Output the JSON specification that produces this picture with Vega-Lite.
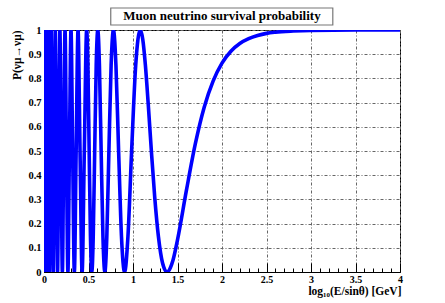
{
  "$schema": "https://vega.github.io/schema/vega-lite/v6.json",
  "width": 356,
  "height": 242,
  "autosize": {"type": "none"},
  "padding": {"left": 44, "top": 30, "right": 45, "bottom": 31},
  "background": "white",
  "config": {
    "view": {"stroke": "black", "strokeWidth": 1},
    "font": "Liberation Serif",
    "axis": {
      "labelFont": "Liberation Serif",
      "labelFontWeight": "bold",
      "labelFontSize": 10.5,
      "labelColor": "black",
      "titleFont": "Liberation Serif",
      "titleFontWeight": "bold",
      "titleColor": "black",
      "domainColor": "black",
      "tickColor": "black",
      "gridColor": "#666666",
      "gridDash": [3, 2, 1, 2],
      "gridWidth": 1,
      "gridOpacity": 1
    }
  },
  "resolve": {"axis": {"x": "independent", "y": "independent"}},
  "layer": [
    {
      "data": {
        "values": [
          {"x": 0.0, "p": 0.959},
          {"x": 0.0023, "p": 1},
          {"x": 0.0114, "p": 0.5},
          {"x": 0.0207, "p": 0},
          {"x": 0.0303, "p": 0.5},
          {"x": 0.0401, "p": 1},
          {"x": 0.05, "p": 0.5},
          {"x": 0.0602, "p": 0},
          {"x": 0.0707, "p": 0.5},
          {"x": 0.0814, "p": 1},
          {"x": 0.0924, "p": 0.5},
          {"x": 0.1037, "p": 0},
          {"x": 0.1153, "p": 0.5},
          {"x": 0.1272, "p": 1},
          {"x": 0.1394, "p": 0.5},
          {"x": 0.152, "p": 0},
          {"x": 0.165, "p": 0.5},
          {"x": 0.1784, "p": 1},
          {"x": 0.1921, "p": 0.5},
          {"x": 0.2064, "p": 0},
          {"x": 0.2211, "p": 0.5},
          {"x": 0.2363, "p": 1},
          {"x": 0.2521, "p": 0.5},
          {"x": 0.2685, "p": 0},
          {"x": 0.2856, "p": 0.5},
          {"x": 0.3033, "p": 1},
          {"x": 0.3218, "p": 0.5},
          {"x": 0.3411, "p": 0},
          {"x": 0.3613, "p": 0.5},
          {"x": 0.3825, "p": 1},
          {"x": 0.4048, "p": 0.5},
          {"x": 0.4282, "p": 0},
          {"x": 0.4531, "p": 0.5},
          {"x": 0.4794, "p": 1},
          {"x": 0.4932, "p": 0.8536},
          {"x": 0.5074, "p": 0.5},
          {"x": 0.5221, "p": 0.1464},
          {"x": 0.5374, "p": 0},
          {"x": 0.5532, "p": 0.1464},
          {"x": 0.5696, "p": 0.5},
          {"x": 0.5866, "p": 0.8536},
          {"x": 0.6043, "p": 1},
          {"x": 0.6228, "p": 0.8536},
          {"x": 0.6421, "p": 0.5},
          {"x": 0.6623, "p": 0.1464},
          {"x": 0.6835, "p": 0},
          {"x": 0.7058, "p": 0.1464},
          {"x": 0.7293, "p": 0.5},
          {"x": 0.7541, "p": 0.8536},
          {"x": 0.7804, "p": 1},
          {"x": 0.8084, "p": 0.8536},
          {"x": 0.8384, "p": 0.5},
          {"x": 0.8706, "p": 0.1464},
          {"x": 0.9054, "p": 0},
          {"x": 0.9431, "p": 0.1464},
          {"x": 0.9845, "p": 0.5},
          {"x": 1.0303, "p": 0.8536},
          {"x": 1.0814, "p": 1},
          {"x": 1.1095, "p": 0.9619},
          {"x": 1.1394, "p": 0.8536},
          {"x": 1.1716, "p": 0.6913},
          {"x": 1.2064, "p": 0.5},
          {"x": 1.2442, "p": 0.3087},
          {"x": 1.2856, "p": 0.1464},
          {"x": 1.3313, "p": 0.0381},
          {"x": 1.3825, "p": 0},
          {"x": 1.42, "p": 0.018},
          {"x": 1.45, "p": 0.05},
          {"x": 1.5, "p": 0.133},
          {"x": 1.6, "p": 0.337},
          {"x": 1.7, "p": 0.529},
          {"x": 1.8, "p": 0.681},
          {"x": 1.9, "p": 0.789},
          {"x": 2.0, "p": 0.863},
          {"x": 2.1, "p": 0.912},
          {"x": 2.2, "p": 0.944},
          {"x": 2.3, "p": 0.964},
          {"x": 2.4, "p": 0.977},
          {"x": 2.5, "p": 0.986},
          {"x": 2.6, "p": 0.991},
          {"x": 2.8, "p": 0.996},
          {"x": 3.0, "p": 0.9986},
          {"x": 3.5, "p": 0.9999},
          {"x": 4.0, "p": 1.0}
        ]
      },
      "mark": {"type": "line", "color": "#0000ff", "strokeWidth": 3.6, "interpolate": "monotone", "clip": true},
      "encoding": {
        "x": {
          "field": "x", "type": "quantitative",
          "scale": {"domain": [0, 4], "nice": false, "zero": false},
          "axis": {
            "values": [0, 0.5, 1, 1.5, 2, 2.5, 3, 3.5, 4],
            "format": ".1~f",
            "grid": true,
            "tickSize": -9,
            "labelPadding": 11,
            "labelFontSize": 10,
            "labelFlush": false,
            "title": "log₁₀(E/sinθ) [GeV]",
            "titleFontSize": 11.5,
            "titleAnchor": "end",
            "titleAlign": "right",
            "titleBaseline": "alphabetic",
            "titleX": 357,
            "titleY": 22
          }
        },
        "y": {
          "field": "p", "type": "quantitative",
          "scale": {"domain": [0, 1], "nice": false},
          "axis": {
            "values": [0, 0.1, 0.2, 0.3, 0.4, 0.5, 0.6, 0.7, 0.8, 0.9, 1],
            "format": ".1~f",
            "grid": true,
            "tickSize": -9,
            "labelPadding": 12,
            "labelFlush": false,
            "title": "P(νμ→νμ)",
            "titleFontSize": 11.5,
            "titleAngle": -90,
            "titleAlign": "right",
            "titleBaseline": "alphabetic",
            "titleX": -24,
            "titleY": 0
          }
        }
      }
    },
    {
      "data": {"values": [{"x1": 0.75, "x2": 3.245, "y1": 1.0207, "y2": 1.0909}]},
      "mark": {"type": "rect", "fill": "white", "stroke": "#777777", "strokeWidth": 1.2, "clip": false},
      "encoding": {
        "x": {
          "field": "x1", "type": "quantitative",
          "axis": {
            "values": [0.1, 0.2, 0.3, 0.4, 0.6, 0.7, 0.8, 0.9, 1.1, 1.2, 1.3, 1.4, 1.6, 1.7, 1.8, 1.9, 2.1, 2.2, 2.3, 2.4, 2.6, 2.7, 2.8, 2.9, 3.1, 3.2, 3.3, 3.4, 3.6, 3.7, 3.8, 3.9],
            "orient": "bottom",
            "labels": false,
            "grid": false,
            "domain": false,
            "tickSize": -4,
            "title": null
          }
        },
        "x2": {"field": "x2"},
        "y": {"field": "y1", "type": "quantitative", "axis": null},
        "y2": {"field": "y2"}
      }
    },
    {
      "data": {"values": [{"x": 2.0, "y": 1.0562, "t": "Muon neutrino survival probability"}]},
      "mark": {"type": "text", "font": "Liberation Serif", "fontWeight": "bold", "fontSize": 13, "color": "black", "baseline": "middle", "align": "center", "clip": false},
      "encoding": {
        "x": {"field": "x", "type": "quantitative", "axis": null},
        "y": {"field": "y", "type": "quantitative", "axis": null},
        "text": {"field": "t"}
      }
    }
  ]
}
